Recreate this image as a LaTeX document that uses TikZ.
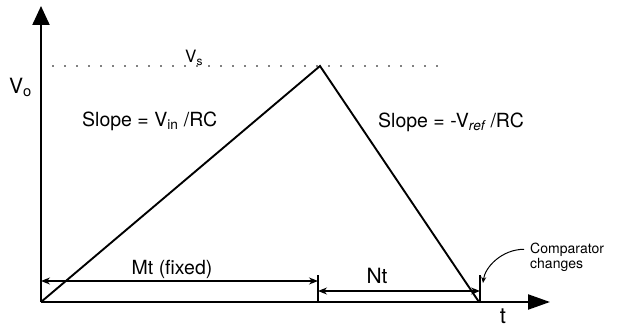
\documentclass[tikz,border=0pt]{standalone}
\usepackage{fontspec}
\setmainfont{TeX Gyre Heros}
\usetikzlibrary{arrows.meta, positioning}

\begin{document}
\begin{tikzpicture}[x=1pt, y=-1pt, >=Stealth,
  axis/.style={line width=2.2pt},
  ramp/.style={line width=1.9pt},
  dim/.style={line width=1.3pt, {Stealth[length=9pt,width=7pt]}-{Stealth[length=9pt,width=7pt]}},
  dotline/.style={line width=1.6pt, line cap=round, dash pattern=on 0pt off 12pt},
  lbl/.style={inner sep=0pt, font=\fontsize{19.5}{22}\selectfont},
  small/.style={inner sep=0pt, font=\fontsize{14}{12}\selectfont}]
  \useasboundingbox (0,0) rectangle (621,329);

  \coordinate (O) at (41,302);
  \coordinate (ytip) at (41,6);
  \coordinate (xtip) at (550,302);
  \coordinate (peak) at (320,66);
  \coordinate (stop) at (479,302);
  \coordinate (dotL) at (53,66);
  \coordinate (dotR) at (440,66);

  % axes
  \draw[axis, -{Triangle[length=19pt, width=17pt]}] (O) -- (ytip);
  \draw[axis, -{Triangle[length=22pt, width=15pt]}] (O) -- (xtip);

  % ramp up and down
  \draw[ramp, line join=miter] (O) -- (peak) -- (stop);
  \draw[dotline] (dotL) -- (dotR);

  % ticks and times
  \coordinate (mt) at (318,275);
  \coordinate (nt) at (480,275);
  \draw[line width=1.3pt] (mt) -- (mt |- O);
  \draw[line width=1.3pt] (nt) -- (nt |- O);
  \coordinate (mtL) at (41,281);
  \coordinate (mtR) at (318,281);
  \coordinate (ntL) at (318,291);
  \coordinate (ntR) at (480,291);
  \draw[dim] (mtL) -- (mtR);
  \draw[dim] (ntL) -- (ntR);

  % labels
  \node[lbl, anchor=base west, font=\fontsize{21}{22}\selectfont] (vo) at (9,93) {V\textsubscript{o}};
  \node[lbl, anchor=base west, font=\fontsize{17}{20}\selectfont] (vs) at (185,63) {V\textsubscript{s}};
  \node[lbl, anchor=base west] (up) at (82,126) {Slope = V\textsubscript{in} /RC};
  \node[lbl, anchor=base west] (down) at (378,127) {Slope = -V\textsubscript{\itshape ref} /RC};
  \node[lbl, anchor=base] (mtlbl) at (172,274) {Mt (fixed)};
  \node[lbl, anchor=base, font=\fontsize{21}{22}\selectfont] (ntlbl) at (377,283) {Nt};
  \node[lbl, anchor=base, font=\fontsize{22}{22}\selectfont] (tlbl) at (503,323) {t};
  \node[small, anchor=base west] (cmpA) at (530,253) {Comparator};
  \node[small, anchor=base west] (cmpB) at (530,268) {changes};

  \coordinate (cmptip) at (483,283);
  \draw[line width=1pt, -{Stealth[length=6pt,width=5pt]}] ([xshift=-6pt]cmpA.west) .. controls +(-22,0) and +(2,-16) .. (cmptip);
\end{tikzpicture}
\end{document}
